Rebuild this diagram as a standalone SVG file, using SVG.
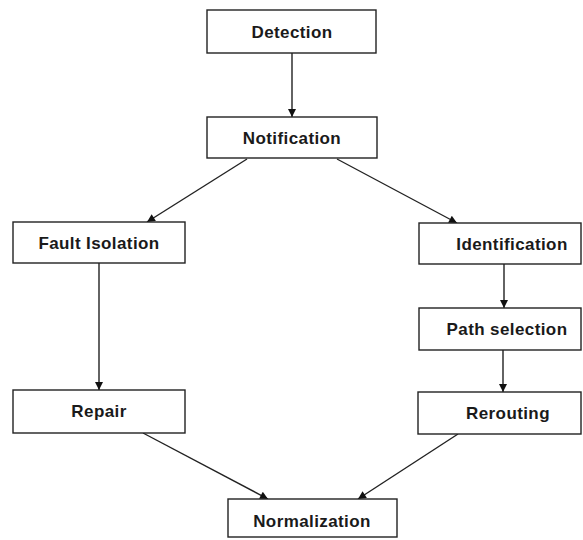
<svg xmlns="http://www.w3.org/2000/svg" width="583" height="540" viewBox="0 0 583 540">
<style>
.box{fill:#fff;stroke:#222;stroke-width:1.4}
.lbl{font-family:"Liberation Sans",Arial,sans-serif;font-size:17px;font-weight:bold;fill:#1a1a1a;text-anchor:middle;dominant-baseline:central;letter-spacing:0.4px}
.con{stroke:#222;stroke-width:1.4;fill:none;marker-end:url(#ah)}
</style>
<defs>
<marker id="ah" viewBox="0 0 10 10" refX="10" refY="5" markerWidth="11" markerHeight="8" markerUnits="userSpaceOnUse" orient="auto">
<path d="M0,0 L10,5 L0,10 z" fill="#111"/>
</marker>
</defs>
<rect width="583" height="540" fill="#fff"/>
<g id="connectors">
<line class="con" x1="292" y1="53" x2="292" y2="117"/>
<line class="con" x1="247" y1="159" x2="147" y2="222"/>
<line class="con" x1="337" y1="159" x2="457" y2="223"/>
<line class="con" x1="99" y1="263" x2="99" y2="390"/>
<line class="con" x1="504" y1="264" x2="504" y2="308"/>
<line class="con" x1="503" y1="350" x2="503" y2="392"/>
<line class="con" x1="143" y1="433" x2="268" y2="499"/>
<line class="con" x1="458" y1="434" x2="358" y2="499"/>
</g>
<g id="detection"><rect class="box" x="207" y="10" width="169" height="43"/><text class="lbl" x="292" y="32">Detection</text></g>
<g id="notification"><rect class="box" x="207" y="117" width="170" height="41"/><text class="lbl" x="292" y="138">Notification</text></g>
<g id="fault-isolation"><rect class="box" x="13" y="222" width="172" height="41"/><text class="lbl" x="99" y="243">Fault Isolation</text></g>
<g id="identification"><rect class="box" x="419" y="223" width="162" height="41"/><text class="lbl" x="512" y="244">Identification</text></g>
<g id="path-selection"><rect class="box" x="419" y="308" width="162" height="42"/><text class="lbl" x="507" y="329">Path selection</text></g>
<g id="repair"><rect class="box" x="13" y="390" width="172" height="43"/><text class="lbl" x="99" y="411">Repair</text></g>
<g id="rerouting"><rect class="box" x="418" y="392" width="163" height="42"/><text class="lbl" x="508" y="413">Rerouting</text></g>
<g id="normalization"><rect class="box" x="228" y="499" width="169" height="38"/><text class="lbl" x="312" y="521">Normalization</text></g>
</svg>
